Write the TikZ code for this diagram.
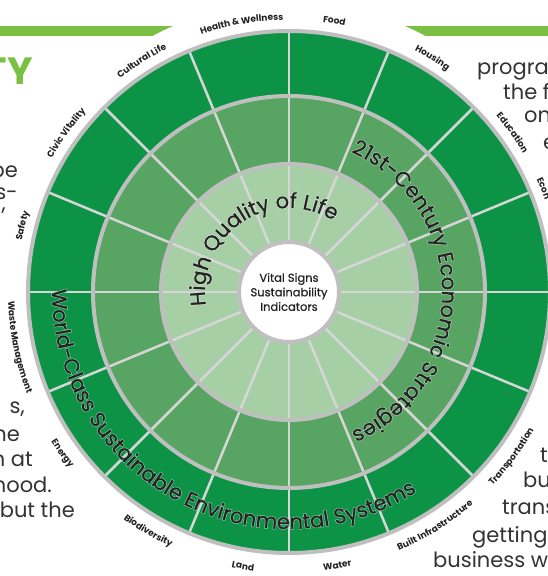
\documentclass[tikz,border=0pt]{standalone}
\usepackage{fontspec}
\setmainfont{Poppins}
\newfontfamily\popsemi{Poppins}[FakeBold=0.6]
\newfontfamily\titlefont{Poppins}[FakeBold=1.0]
\newfontfamily\glowA{Poppins}[FakeBold=7]
\newfontfamily\glowB{Poppins}[FakeBold=3.5]
\usetikzlibrary{decorations.text}
\definecolor{darkg}{HTML}{0C9346}
\definecolor{midg}{HTML}{58A463}
\definecolor{lightg}{HTML}{A7CFA5}
\definecolor{ringgrey}{HTML}{BFBFBF}
\definecolor{spokegrey}{HTML}{D6D6D6}
\definecolor{barg}{HTML}{7AC143}
\definecolor{txt}{HTML}{333333}
\definecolor{lbl}{HTML}{222222}
\newcommand\lblfont{\fontsize{9}{9}\selectfont\bfseries}
\newcommand\bigsize{\fontsize{21}{21}\selectfont}
\newcommand\toplbl[2]{%
  \pgfmathsetmacro\sa{#1+70}\pgfmathsetmacro\ea{#1-70}%
  \path[decorate,decoration={text along path,text align=center,text color=lbl,text={|\lblfont|#2}}]
    ([shift={(\sa:272)}]C) arc[start angle=\sa,end angle=\ea,radius=272];}
\newcommand\botlbl[2]{%
  \pgfmathsetmacro\sa{#1-70}\pgfmathsetmacro\ea{#1+70}%
  \path[decorate,decoration={text along path,text align=center,text color=lbl,text={|\lblfont|#2}}]
    ([shift={(\sa:281)}]C) arc[start angle=\sa,end angle=\ea,radius=281];}
% #1 start angle, #2 end angle, #3 radius, #4 ring colour, #5 text
\newcommand\ringtitle[5]{%
  \path[decorate,decoration={text along path,text align=center,text color=white!40!#4,text={|\glowA\bigsize|#5}}]
    ([shift={(#1:#3)}]C) arc[start angle=#1,end angle=#2,radius=#3];
  \path[decorate,decoration={text along path,text align=center,text color=white!70!#4,text={|\glowB\bigsize|#5}}]
    ([shift={(#1:#3)}]C) arc[start angle=#1,end angle=#2,radius=#3];
  \path[decorate,decoration={text along path,text align=center,text color=lbl,text={|\titlefont\bigsize|#5}}]
    ([shift={(#1:#3)}]C) arc[start angle=#1,end angle=#2,radius=#3];}
\tikzset{
  bodytxt/.style={font=\fontsize{21}{21}\selectfont, text=txt, inner sep=0pt},
  spoke/.style={spokegrey, line width=2.5pt},
  ringline/.style={ringgrey, line width=4pt}
}
\begin{document}
\begin{tikzpicture}[x=1pt,y=1pt]
\useasboundingbox (0,0) rectangle (548,576);
\coordinate (C) at (289,284);
% background bar and white halo
\fill[barg] (-5,550) rectangle (553,540);
\fill[white] (C) circle (290);
% heading fragment
\node[font=\fontsize{38}{38}\selectfont\bfseries, text=barg, inner sep=0pt, anchor=base east] (ty) at (33,491) {TY};
% body text fragments, left
\node[bodytxt, anchor=base east] (l1) at (18,398) {be};
\node[bodytxt, anchor=base east] (l2) at (18,376) {s-};
\node[bodytxt, anchor=base east] (l3) at (6,365) {,};
\node[bodytxt, anchor=base east] (l4) at (25,162) {s,};
\node[bodytxt, anchor=base east] (l5) at (20,134) {he};
\node[bodytxt, anchor=base east] (l6) at (33,109) {n at};
\node[bodytxt, anchor=base east] (l7) at (52,83) {hood.};
\node[bodytxt, anchor=base east] (l8) at (75,58) {but the};
% body text fragments, right
\node[bodytxt, anchor=base west] (r1) at (477,501) {progra};
\node[bodytxt, anchor=base west] (r2) at (503,476) {the f};
\node[bodytxt, anchor=base west] (r3) at (524,453) {on};
\node[bodytxt, anchor=base west] (r4) at (543,426) {e};
\node[bodytxt, anchor=base west] (r5) at (540,113) {t};
\node[bodytxt, anchor=base west] (r6) at (523,88) {bu};
\node[bodytxt, anchor=base west] (r7) at (502,61) {trans};
\node[bodytxt, anchor=base west] (r8) at (472,33) {getting};
\node[bodytxt, anchor=base west] (r9) at (433,9) {business wil};
% wheel
\fill[darkg] (C) circle (261);
\fill[midg] (C) circle (196);
\fill[lightg] (C) circle (128);
\fill[white] (C) circle (50);
\foreach \a in {0,22.5,...,337.5}
  \draw[spoke] ([shift={(\a:50)}]C) -- ([shift={(\a:261)}]C);
\foreach \r in {50,128,196,261}
  \draw[ringline] (C) circle (\r);
\node[font=\popsemi\fontsize{11.5}{14.5}\selectfont, text=lbl, align=center] (core) at (C) {Vital Signs\\Sustainability\\Indicators};
% ring titles
\ringtitle{213.5}{33.5}{84}{lightg}{High Quality of Life}
\ringtitle{90}{-90}{153}{midg}{21st-Century Economic Strategies}
\ringtitle{151}{331}{237}{darkg}{World-Class Sustainable Environmental Systems}
% outer labels
\toplbl{100}{Health {\&} Wellness}
\toplbl{80.5}{Food}
\toplbl{58.5}{Housing}
\toplbl{35.5}{Education}
\toplbl{122.5}{Cultural Life}
\toplbl{144.5}{Civic Vitality}
\toplbl{166}{Safety}
\path[decorate,decoration={text along path,text align=left,text color=lbl,text={|\lblfont|Econ}}]
  ([shift={(24.5:272)}]C) arc[start angle=24.5,end angle=-40,radius=272];
\botlbl{-168.5}{Waste Management}
\botlbl{-144.5}{Energy}
\botlbl{-120.5}{Biodiversity}
\botlbl{-99.5}{Land}
\botlbl{-80}{Water}
\botlbl{-58}{Built Infrastructure}
\botlbl{-36.5}{Transportation}
\end{tikzpicture}
\end{document}
